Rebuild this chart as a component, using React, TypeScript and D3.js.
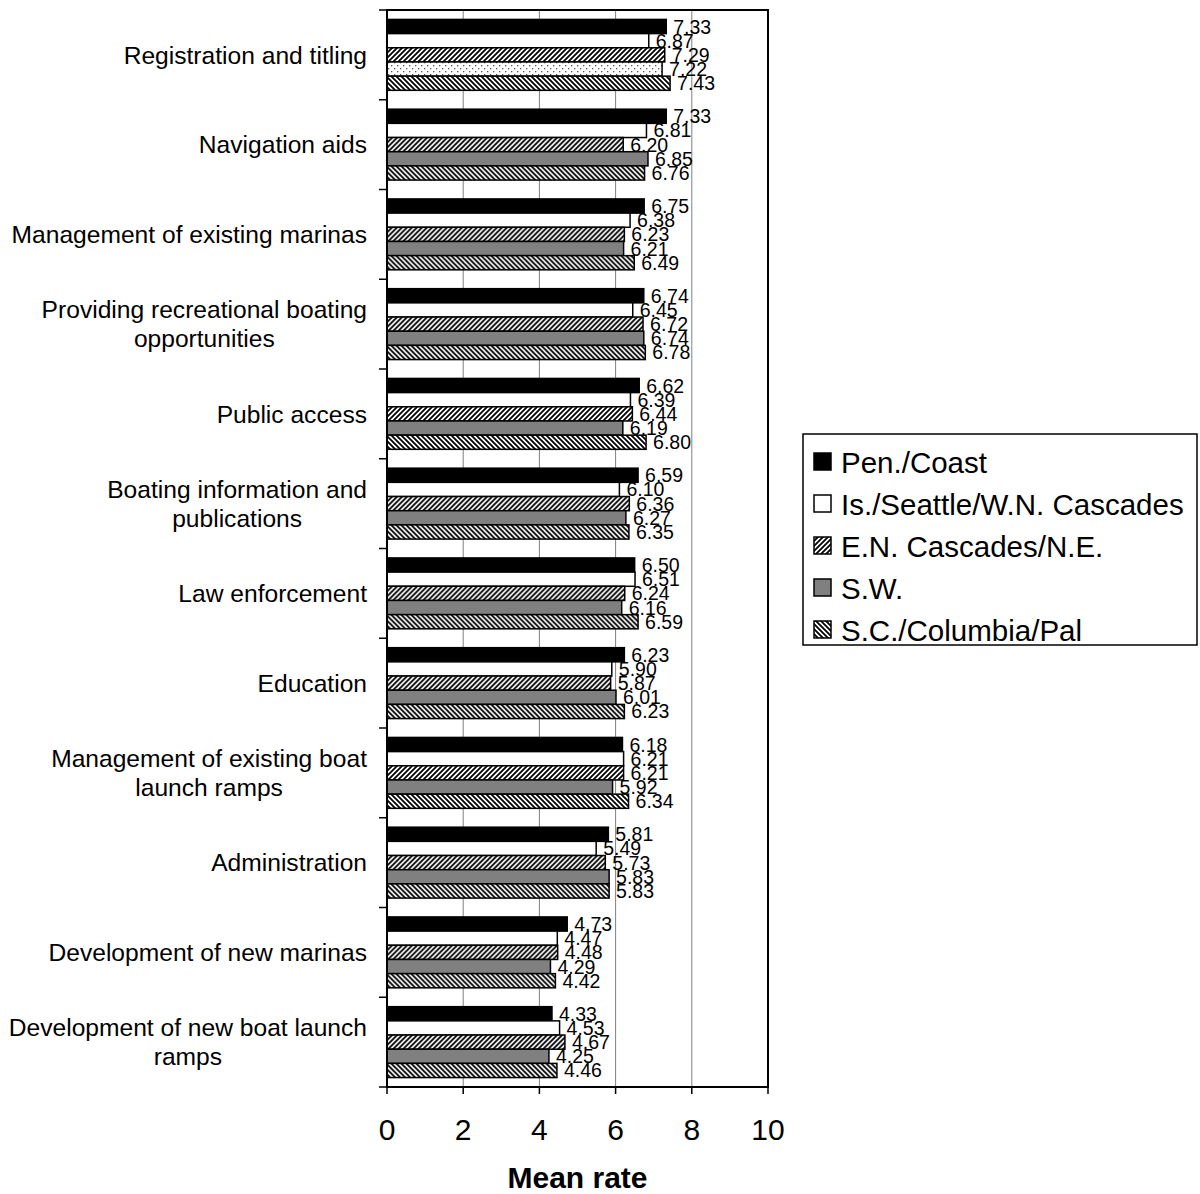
import React from "react";
import * as d3 from "d3";

const categories: string[][] = [
  ["Registration and titling"],
  ["Navigation aids"],
  ["Management of existing marinas"],
  ["Providing recreational boating", "opportunities"],
  ["Public access"],
  ["Boating information and", "publications"],
  ["Law enforcement"],
  ["Education"],
  ["Management of existing boat", "launch ramps"],
  ["Administration"],
  ["Development of new marinas"],
  ["Development of new boat launch", "ramps"],
];

const seriesNames = [
  "Pen./Coast",
  "Is./Seattle/W.N. Cascades",
  "E.N. Cascades/N.E.",
  "S.W.",
  "S.C./Columbia/Pal",
];

const penCoast = [7.33, 7.33, 6.75, 6.74, 6.62, 6.59, 6.5, 6.23, 6.18, 5.81, 4.73, 4.33];
const isSeattle = [6.87, 6.81, 6.38, 6.45, 6.39, 6.1, 6.51, 5.9, 6.21, 5.49, 4.47, 4.53];
const enCascades = [7.29, 6.2, 6.23, 6.72, 6.44, 6.36, 6.24, 5.87, 6.21, 5.73, 4.48, 4.67];
const sw = [7.22, 6.85, 6.21, 6.74, 6.19, 6.27, 6.16, 6.01, 5.92, 5.83, 4.29, 4.25];
const scColumbia = [7.43, 6.76, 6.49, 6.78, 6.8, 6.35, 6.59, 6.23, 6.34, 5.83, 4.42, 4.46];

const xTicks = [0, 2, 4, 6, 8, 10];
const xTitle = "Mean rate";

const seriesValues = [penCoast, isSeattle, enCascades, sw, scColumbia];
const fills = ["#000000", "#ffffff", "url(#hatchF)", "#808080", "url(#hatchB)"];

const FONT = "'Liberation Sans', Arial, Helvetica, sans-serif";

function measure(text: string, size: number): number {
  const c = document.createElement("canvas").getContext("2d");
  if (!c) return text.length * size * 0.5;
  c.font = `${size}px ${FONT}`;
  return c.measureText(text).width;
}

export default function App() {
  const W = 1200;
  const H = 1194;
  const left = 387;
  const right = 768;
  const top = 10;
  const bottom = 1087;

  const x = d3.scaleLinear().domain([0, 10]).range([left, right]);
  const y = d3
    .scaleBand<number>()
    .domain(d3.range(categories.length))
    .range([top, bottom])
    .padding(0);
  const bw = y.bandwidth();
  const ys = d3
    .scaleBand<number>()
    .domain(d3.range(seriesNames.length))
    .range([bw * 0.105, bw * 0.895])
    .padding(0);

  const catFont = 24.6;
  const lineH = 29;
  const labelRight = 367;

  return (
    <svg width={W} height={H} style={{ position: "absolute", left: 0, top: 0 }} fontFamily={FONT}>
      <defs>
        <pattern id="hatchF" width="5" height="5" patternUnits="userSpaceOnUse">
          <rect width="5" height="5" fill="#fff" />
          <path d="M-1,6 L6,-1 M-1,1 L1,-1 M4,6 L6,4" stroke="#000" strokeWidth="1.8" />
        </pattern>
        <pattern id="hatchB" width="5" height="5" patternUnits="userSpaceOnUse">
          <rect width="5" height="5" fill="#fff" />
          <path d="M-1,-1 L6,6 M-1,4 L1,6 M4,-1 L6,1" stroke="#000" strokeWidth="1.8" />
        </pattern>
        <pattern id="dots" width="6" height="6" patternUnits="userSpaceOnUse">
          <rect width="6" height="6" fill="#fff" />
          <rect x="1" y="1" width="1.3" height="1.3" fill="#555" />
          <rect x="4" y="4" width="1.3" height="1.3" fill="#555" />
        </pattern>
      </defs>
      <rect width={W} height={H} fill="#fff" />

      {/* gridlines */}
      {xTicks.slice(1, -1).map((t) => (
        <line key={t} x1={x(t)} x2={x(t)} y1={top} y2={bottom} stroke="#808080" strokeWidth={1} />
      ))}

      {/* bars */}
      {categories.map((_, ci) => (
        <g key={ci} transform={`translate(0,${y(ci)})`}>
          {seriesValues.map((vals, si) => {
            const fill = ci === 0 && si === 3 ? "url(#dots)" : fills[si];
            return (
              <rect
                key={si}
                x={x(0)}
                y={ys(si)}
                width={x(vals[ci]) - x(0)}
                height={ys.bandwidth()}
                fill={fill}
                stroke="#000"
                strokeWidth={1.5}
              />
            );
          })}
        </g>
      ))}

      {/* value labels */}
      {categories.map((_, ci) => (
        <g key={ci} transform={`translate(0,${y(ci)})`}>
          {seriesValues.map((vals, si) => (
            <text
              key={si}
              x={x(vals[ci]) + 7}
              y={(ys(si) as number) + ys.bandwidth() / 2 + 7}
              fontSize={19.5}
              fill="#000"
            >
              {vals[ci].toFixed(2)}
            </text>
          ))}
        </g>
      ))}

      {/* frame */}
      <rect x={left} y={top} width={right - left} height={bottom - top} fill="none" stroke="#000" strokeWidth={2} />

      {/* left ticks */}
      {d3.range(categories.length + 1).map((i) => {
        const yy = i < categories.length ? (y(i) as number) : bottom;
        return <line key={i} x1={left - 8} x2={left} y1={yy} y2={yy} stroke="#000" strokeWidth={1.5} />;
      })}

      {/* bottom ticks and labels */}
      {xTicks.map((t) => (
        <g key={t}>
          <line x1={x(t)} x2={x(t)} y1={bottom} y2={bottom + 7} stroke="#000" strokeWidth={1.5} />
          <text x={x(t)} y={1140} fontSize={30} textAnchor="middle" fill="#000">
            {t}
          </text>
        </g>
      ))}
      <text x={x(5)} y={1188} fontSize={30} fontWeight="bold" textAnchor="middle" fill="#000">
        {xTitle}
      </text>

      {/* category labels */}
      {categories.map((lines, ci) => {
        const cy = (y(ci) as number) + bw / 2;
        const maxW = Math.max(...lines.map((l) => measure(l, catFont)));
        const cx = labelRight - maxW / 2;
        const startY = cy - ((lines.length - 1) * lineH) / 2 + catFont * 0.36;
        return (
          <text key={ci} fontSize={catFont} textAnchor="middle" fill="#000">
            {lines.map((l, li) => (
              <tspan key={li} x={cx} y={startY + li * lineH}>
                {l}
              </tspan>
            ))}
          </text>
        );
      })}

      {/* legend */}
      <g>
        <rect x={803} y={434} width={394} height={211} fill="#fff" stroke="#000" strokeWidth={1.5} />
        {seriesNames.map((name, si) => {
          const cy = 462 + si * 42;
          return (
            <g key={si}>
              <rect x={814} y={cy - 9} width={17} height={17} fill={fills[si]} stroke="#000" strokeWidth={1.5} />
              <text x={841} y={cy + 10.5} fontSize={29.5} fill="#000">
                {name}
              </text>
            </g>
          );
        })}
      </g>
    </svg>
  );
}
